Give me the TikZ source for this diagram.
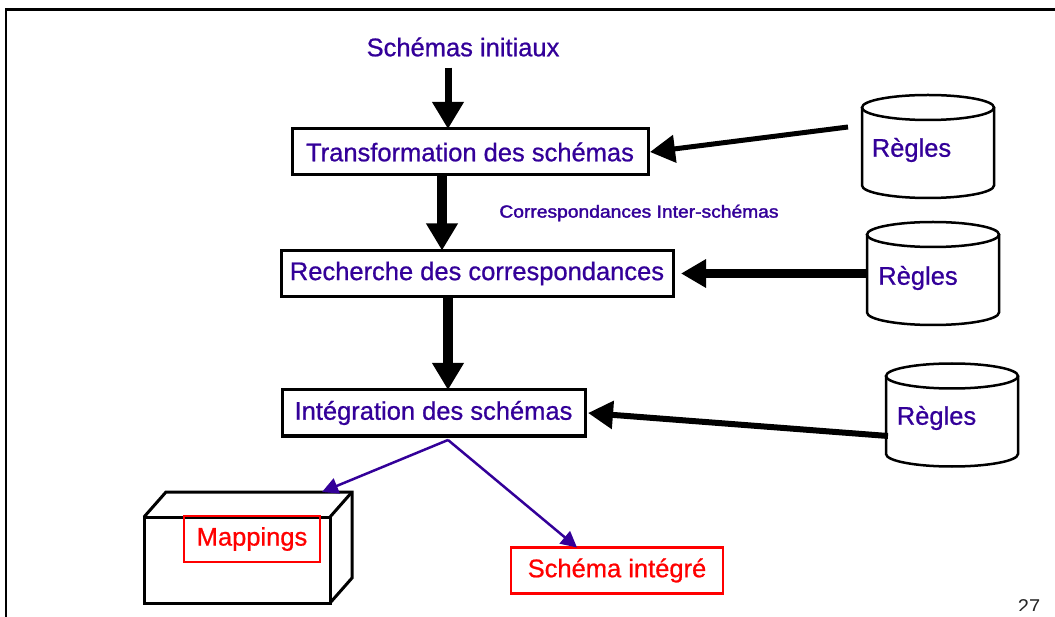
\documentclass[tikz,border=0pt]{standalone}
\usepackage{fontspec}
\usepackage{graphicx}
\setmainfont{Liberation Sans}
\newfontfamily\lblfont{Liberation Sans}[FakeBold=0.8]
\newfontfamily\notefont{Liberation Sans}[FakeBold=1.8]
\usetikzlibrary{arrows.meta,calc}
\definecolor{ink}{RGB}{51,0,153}
\definecolor{redbox}{RGB}{255,0,0}

% Cylinder ("Règles" store) drawn around an invisible node
\newcommand\drawcyl[1]{%
  \draw[cylline] ($(#1.north west)+(0,12.5)$) -- ($(#1.south west)+(0,-12.5)$)
    arc[start angle=180,end angle=360,x radius=66pt,y radius=12.5pt]
    -- ($(#1.north east)+(0,12.5)$);
  \draw[cylline] ($(#1.north)+(0,12.5)$) ellipse[x radius=66pt,y radius=12.5pt];}

\begin{document}
\begin{tikzpicture}[x=1pt,y=-1pt,
  every node/.style={inner sep=0pt,outer sep=0pt},
  lbl/.style={text=ink,font=\lblfont\fontsize{25.5}{28}\selectfont},
  stepbox/.style={lbl,draw=black,line width=3pt,minimum height=46pt},
  redlbl/.style={draw=redbox,text=redbox,line width=2.5pt,
    font=\lblfont\fontsize{25.5}{28}\selectfont,minimum height=46pt},
  cylnode/.style={minimum width=132pt,minimum height=103pt},
  cylline/.style={line width=2.5pt},
  bigarrow/.style={draw=black,line width=#1,
    -{Triangle[length=27pt,width=30pt]}},
  sidearrow/.style={draw=black,line width=#1,
    -{Triangle[length=25pt,width=27pt]}},
  thinarrow/.style={draw=ink,line width=2.5pt,
    -{Triangle[length=16pt,width=16pt]}},
]
\useasboundingbox (0,0) rectangle (1055,617);

% page frame
\draw[line width=3pt] (5,10) -- (1055,10);
\draw[line width=2pt] (6,10) -- (6,617);

% process steps
\node[lbl] (s) at (463,47) {Schémas initiaux};
\node[stepbox,minimum width=356pt] (t) at (470,152) {Transformation des schémas};
\node[stepbox,minimum width=392pt] (rc) at (477,273.5) {Recherche des correspondances};
\node[stepbox,minimum width=303pt] (i) at (433.5,413) {Intégration des schémas};

\node[text=ink,font=\notefont\fontsize{17.5}{19}\selectfont] (ci) at (639,213)
  {\scalebox{1.1}[1]{Correspondances Inter-schémas}};

% rule stores
\node[cylnode] (r1) at (928,146.5) {};
\node[cylnode] (r2) at (933,273.5) {};
\node[cylnode] (r3) at (952,415) {};
\drawcyl{r1}
\drawcyl{r2}
\drawcyl{r3}
\node[lbl] (r1t) at (911.5,150) {Règles};
\node[lbl] (r2t) at (918,278) {Règles};
\node[lbl] (r3t) at (936.5,418) {Règles};

% outputs
\node[draw,line width=3pt,minimum width=186pt,minimum height=86pt] (mb) at (237,560) {};
\draw[line width=3pt,line join=miter]
  (mb.north west) -- ++(22,-25) -- ++(186,0) -- ++(0,86) -- (mb.south east);
\draw[line width=3pt] (mb.north east) -- ++(22,-25);
\node[redlbl,minimum width=136pt] (mp) at (252,539) {Mappings};
\node[redlbl,minimum width=212pt] (si) at (617,570.5) {Schéma intégré};

% page number, trimmed at the lower edge of the slide
\begin{scope}
  \clip (1000,595) rectangle (1055,610);
  \node[font=\fontsize{20}{22}\selectfont,text=black!85,anchor=north] (pg) at (1029,600) {27};
\end{scope}

% main flow
\coordinate (c1) at (448,0);
\coordinate (c2) at (442,0);
\draw[bigarrow=7pt,shorten <=11pt] (s.south -| c1) -- (t.north -| c1);
\draw[bigarrow=10pt] (t.south -| c2) -- (rc.north -| c2);
\draw[bigarrow=10pt] (rc.south -| c1) -- (i.north -| c1);

% rules feeding each step
\coordinate (h1) at (848,127);
\coordinate (h3) at (888,436);
\draw[sidearrow=5pt] (h1) -- ([xshift=2pt]t.east);
\draw[sidearrow=9pt,shorten >=-1pt] (r2.west) -- ([xshift=9pt]rc.east);
\draw[sidearrow=6pt] (h3) -- ([xshift=3pt]i.east);

% integration outputs
\draw[thinarrow] ([xshift=14.5pt,yshift=-4pt]i.south) -- ($(mb.north east)+(-8,-25)$);
\draw[thinarrow] ([xshift=14.5pt,yshift=-4pt]i.south) -- ($(si.north)+(-40,0)$);
\end{tikzpicture}
\end{document}
